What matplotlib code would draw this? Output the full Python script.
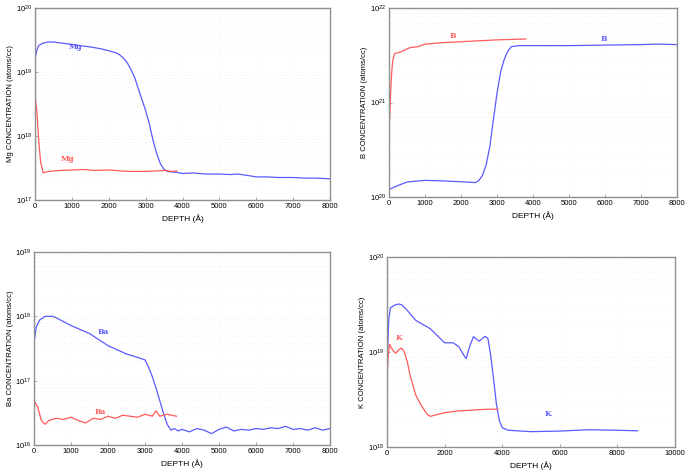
import matplotlib.pyplot as plt
import numpy as np

# ---- Mg panel ----
mg_blue_x = [0, 50, 100, 200, 350, 500, 700, 1000, 1300, 1500, 1800, 2000, 2200, 2300, 2400, 2500,
             2600, 2700, 2800, 2900, 3000, 3100, 3200, 3300, 3400, 3500, 3600, 3700, 3850, 4000,
             4300, 4600, 5000, 5300, 5500, 5800, 6000, 6300, 6600, 7000, 7300, 7600, 8000]
mg_blue_y = [1.6e19, 2.2e19, 2.6e19, 2.8e19, 2.95e19, 2.95e19, 2.85e19, 2.7e19, 2.55e19, 2.47e19,
             2.3e19, 2.15e19, 2.0e19, 1.85e19, 1.65e19, 1.4e19, 1.1e19, 8.3e18, 5.5e18, 3.7e18,
             2.5e18, 1.55e18, 8.6e17, 5.3e17, 3.7e17, 3.0e17, 2.8e17, 2.75e17, 2.7e17, 2.6e17,
             2.65e17, 2.55e17, 2.55e17, 2.5e17, 2.55e17, 2.4e17, 2.3e17, 2.3e17, 2.25e17, 2.25e17,
             2.2e17, 2.2e17, 2.15e17]
mg_red_x = [0, 50, 100, 150, 220, 300, 500, 700, 1000, 1300, 1600, 2000, 2300, 2600, 3000, 3300,
            3500, 3700, 3850]
mg_red_y = [4.1e18, 2.5e18, 8.6e17, 4.0e17, 2.65e17, 2.75e17, 2.85e17, 2.9e17, 2.95e17, 3.0e17,
            2.9e17, 2.95e17, 2.85e17, 2.8e17, 2.8e17, 2.85e17, 2.9e17, 2.8e17, 2.85e17]

# ---- B panel ----
b_red_x = [0, 20, 40, 60, 90, 120, 160, 300, 575, 800, 1000, 1500, 2000, 2500, 3000, 3400, 3800]
b_red_y = [5.3e20, 7.0e20, 1.1e21, 1.7e21, 2.5e21, 3.0e21, 3.3e21, 3.4e21, 3.8e21, 3.9e21, 4.15e21,
           4.3e21, 4.4e21, 4.5e21, 4.6e21, 4.65e21, 4.7e21]
b_blue_x = [0, 200, 500, 1000, 1500, 2000, 2400, 2500, 2600, 2700, 2800, 2900, 3000, 3100, 3200,
            3300, 3400, 3600, 4000, 5000, 6000, 7000, 7500, 8000]
b_blue_y = [1.2e20, 1.3e20, 1.44e20, 1.5e20, 1.48e20, 1.45e20, 1.42e20, 1.5e20, 1.7e20, 2.2e20,
            3.4e20, 6.6e20, 1.25e21, 2.1e21, 2.85e21, 3.5e21, 3.9e21, 4.0e21, 4.0e21, 4.0e21,
            4.05e21, 4.1e21, 4.15e21, 4.1e21]

# ---- Ba panel ----
ba_blue_x = [0, 60, 150, 300, 500, 600, 1000, 1500, 2000, 2500, 2800, 3000, 3100, 3200, 3300, 3400,
             3500, 3600, 3700, 3800, 3900, 4000, 4200, 4400, 4600, 4800, 5000, 5200, 5400, 5600,
             5800, 6000, 6200, 6400, 6600, 6800, 7000, 7200, 7400, 7600, 7800, 8000]
ba_blue_y = [3.8e17, 6.8e17, 8.7e17, 1.0e18, 1.0e18, 9.5e17, 7.2e17, 5.4e17, 3.5e17, 2.6e17, 2.3e17,
             2.1e17, 1.6e17, 1.15e17, 7.6e16, 4.9e16, 3.1e16, 2.1e16, 1.7e16, 1.8e16, 1.65e16,
             1.75e16, 1.6e16, 1.8e16, 1.7e16, 1.5e16, 1.75e16, 1.9e16, 1.65e16, 1.75e16, 1.7e16,
             1.8e16, 1.75e16, 1.85e16, 1.8e16, 1.95e16, 1.75e16, 1.8e16, 1.7e16, 1.85e16, 1.7e16,
             1.8e16]
ba_red_x = [0, 100, 200, 300, 400, 600, 800, 1000, 1200, 1400, 1600, 1800, 2000, 2200, 2400, 2600,
            2800, 3000, 3200, 3300, 3400, 3600, 3850]
ba_red_y = [4.9e16, 3.9e16, 2.4e16, 2.1e16, 2.4e16, 2.6e16, 2.5e16, 2.7e16, 2.4e16, 2.2e16, 2.6e16,
            2.5e16, 2.8e16, 2.6e16, 2.9e16, 2.8e16, 2.7e16, 3.0e16, 2.8e16, 3.4e16, 2.8e16, 3.0e16,
            2.8e16]

# ---- K panel ----
k_blue_x = [0, 60, 115, 250, 400, 500, 700, 1000, 1500, 2000, 2300, 2500, 2700, 2750, 2850, 3000,
            3200, 3400, 3500, 3600, 3700, 3800, 3900, 4000, 4200, 5000, 6000, 7000, 8000, 8700]
k_blue_y = [7.0e18, 2.2e19, 2.9e19, 3.1e19, 3.2e19, 3.15e19, 2.75e19, 2.15e19, 1.76e19, 1.25e19,
            1.25e19, 1.13e19, 8.9e18, 8.5e18, 1.1e19, 1.45e19, 1.3e19, 1.46e19, 1.4e19, 9.2e18,
            5.2e18, 2.8e18, 1.9e18, 1.6e18, 1.5e18, 1.45e18, 1.47e18, 1.52e18, 1.5e18, 1.48e18]
k_red_x = [0, 40, 90, 200, 300, 400, 500, 600, 700, 800, 1000, 1200, 1400, 1500, 2000, 2500, 3000,
           3500, 3850]
k_red_y = [5.1e18, 9.0e18, 1.2e19, 1.04e19, 9.7e18, 1.05e19, 1.1e19, 1.0e19, 8.0e18, 5.7e18,
           3.5e18, 2.7e18, 2.2e18, 2.1e18, 2.3e18, 2.4e18, 2.45e18, 2.5e18, 2.5e18]

BLUE = '#5a5aff'
RED = '#ff5a5a'

plt.rcParams['font.family'] = ['Liberation Sans', 'DejaVu Sans']
fig = plt.figure(figsize=(6.85, 4.74), dpi=100)

panels = [
    # rect, ylim, xmax, xstep, ylabel, blue, red, labels
    ([0.0511, 0.578, 0.4307, 0.405], (1e17, 1e20), 8000, 1000, 'Mg CONCENTRATION (atoms/cc)',
     (mg_blue_x, mg_blue_y), (mg_red_x, mg_red_y), [('Mg', 1100, 2.5e19, BLUE), ('Mg', 880, 4.3e17, RED)]),
    ([0.5679, 0.5844, 0.4204, 0.3987], (1e20, 1e22), 8000, 1000, 'B CONCENTRATION (atoms/cc)',
     (b_blue_x, b_blue_y), (b_red_x, b_red_y), [('B', 5960, 4.7e21, BLUE), ('B', 1780, 5.1e21, RED)]),
    ([0.0496, 0.0612, 0.4321, 0.4072], (1e16, 1e19), 8000, 1000, 'Ba CONCENTRATION (atoms/cc)',
     (ba_blue_x, ba_blue_y), (ba_red_x, ba_red_y), [('Ba', 1870, 5.8e17, BLUE), ('Ba', 1780, 3.2e16, RED)]),
    ([0.565, 0.057, 0.4204, 0.4008], (1e18, 1e20), 10000, 2000, 'K CONCENTRATION (atoms/cc)',
     (k_blue_x, k_blue_y), (k_red_x, k_red_y), [('K', 5580, 2.2e18, BLUE), ('K', 400, 1.4e19, RED)]),
]

for rect, ylim, xmax, xstep, ylabel, blue, red, labels in panels:
    ax = fig.add_axes(rect)
    ax.plot(blue[0], blue[1], color=BLUE, lw=0.9)
    ax.plot(red[0], red[1], color=RED, lw=0.9)
    ax.set_yscale('log')
    ax.set_ylim(*ylim)
    ax.set_xlim(0, xmax)
    ax.set_xticks(np.arange(0, xmax + 1, xstep))
    ax.set_xlabel('DEPTH (Å)', fontsize=6, labelpad=3)
    ax.set_ylabel(ylabel, fontsize=5.5, labelpad=1)
    ax.tick_params(labelsize=5.5, length=2, width=0.5, color='#888888', direction='in', pad=2)
    ax.tick_params(which='minor', length=1, width=0.4, color='#888888', direction='in')
    ax.grid(True, which='both', color='#eeeeee', lw=0.4, ls=':')
    for s in ax.spines.values():
        s.set_color('#909090')
        s.set_linewidth(1.0)
    for txt, x, y, c in labels:
        ax.text(x, y, txt, color=c, fontsize=5.5, family='serif', fontweight='bold',
                ha='center', va='center')

fig.savefig('out.png', dpi=100)
